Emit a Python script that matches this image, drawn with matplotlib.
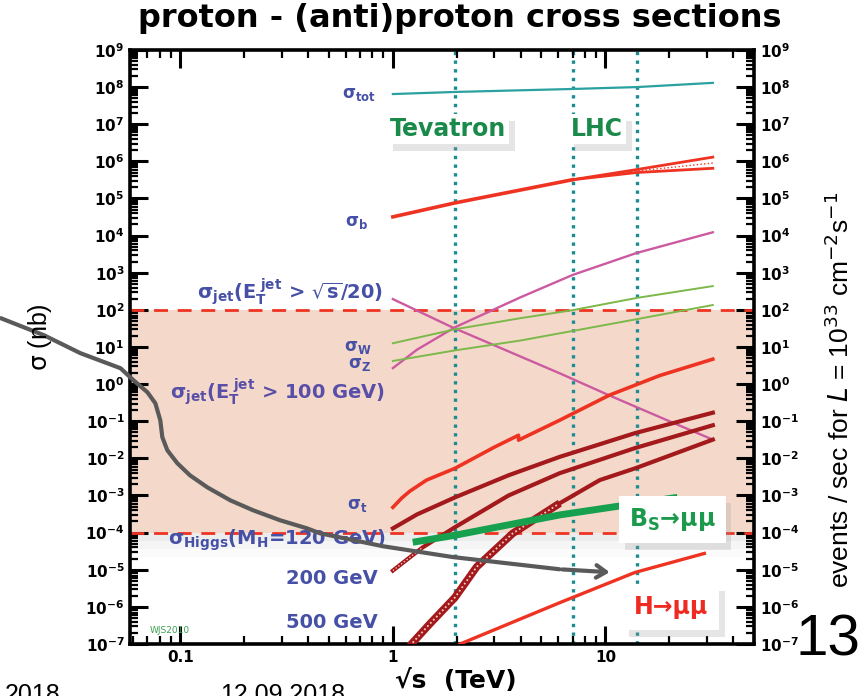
import numpy as np
import matplotlib
matplotlib.use("Agg")
import matplotlib.pyplot as plt
import matplotlib.patheffects as pe
from matplotlib.ticker import LogLocator, FuncFormatter, NullFormatter

plt.rcParams['font.family'] = ['DejaVu Sans']
plt.rcParams['mathtext.fontset'] = 'dejavusans'
plt.rcParams['mathtext.default'] = 'bf'

# sqrt(s) in TeV, cross sections in nb
sig_tot_x = [1.0, 1.96, 7.0, 14.0, 32.0]
sig_tot_y = [6.5e7, 7.4e7, 8.9e7, 1.0e8, 1.3e8]

sig_b_x = [1.0, 1.96, 4.0, 7.0]
sig_b_y = [3.2e4, 7.6e4, 1.7e5, 3.2e5]
sig_b_band_x = [7.0, 14.0, 32.0]
sig_b_hi = [3.2e5, 6.0e5, 1.3e6]
sig_b_mid = [3.2e5, 5.5e5, 9.0e5]
sig_b_lo = [3.2e5, 5.0e5, 6.5e5]

jet_frac_x = [1.0, 1.9, 6.1, 10.4, 20.6, 32.0]
jet_frac_y = [195, 34, 1.95, 0.5, 0.093, 0.032]

jet_100_x = [1.0, 1.3, 1.96, 4.0, 7.0, 14.0, 32.0]
jet_100_y = [2.7, 8.5, 34, 220, 870, 3400, 12300]

sig_w_x = [1.0, 1.96, 4.0, 7.0, 14.0, 32.0]
sig_w_y = [12.6, 30, 60, 98, 209, 437]
sig_z_x = [1.0, 1.96, 4.0, 7.0, 14.0, 32.0]
sig_z_y = [4.2, 8.1, 15, 27, 56, 135]

# top: ppbar below 4 TeV, pp above
sig_t_ppbar_x = [1.0, 1.1, 1.2, 1.44, 1.96, 3.0, 3.9]
sig_t_ppbar_y = [4.8e-4, 8.5e-4, 1.3e-3, 2.6e-3, 5.4e-3, 2.0e-2, 4.2e-2]
sig_t_pp_x = [3.9, 6.1, 10.4, 18.0, 32.0]
sig_t_pp_y = [0.031, 0.107, 0.5, 1.7, 4.7]

higgs120_x = [1.0, 1.3, 1.96, 3.5, 6.1, 13.8, 32.0]
higgs120_y = [1.3e-4, 3.1e-4, 8.9e-4, 3.5e-3, 1.1e-2, 4.8e-2, 0.17]
higgs200_x = [1.0, 1.38, 1.96, 3.5, 6.1, 13.8, 32.0]
higgs200_y = [9.5e-6, 4.0e-5, 1.4e-4, 1.0e-3, 4.0e-3, 1.9e-2, 7.8e-2]
higgs500_x = [1.2, 1.5, 1.96, 2.48, 3.66, 6.1, 9.4, 13.8, 32.0]
higgs500_y = [8.9e-8, 3.6e-7, 1.8e-6, 1.2e-5, 9.5e-5, 6.2e-4, 2.6e-3, 5.4e-3, 3.2e-2]

bs_mumu_x = [1.24, 1.96, 6.1, 21.8]
bs_mumu_y = [5.5e-5, 8.5e-5, 3.0e-4, 8.9e-4]

h_mumu_x = [2.07, 6.1, 13.8, 29.2]
h_mumu_y = [1.0e-7, 1.3e-6, 8.5e-6, 2.75e-5]

collider_energies = [1.96, 7.0, 14.0]
band_lo, band_hi = 1e-4, 1e2

# grey pointer path (TeV, nb), runs out past the left spine
arrow_x = [0.0143, 0.0228, 0.0339, 0.0523, 0.0602, 0.0700, 0.0763, 0.0805,
           0.0823, 0.0869, 0.0968, 0.111, 0.134, 0.172, 0.220, 0.295, 0.395,
           0.454, 0.898, 1.91, 6.08]
arrow_y = [59.7, 20.8, 6.8, 2.68, 1.27, 0.605, 0.305, 0.106, 0.0371, 0.0165,
           7.4e-3, 3.5e-3, 1.66e-3, 7.4e-4, 4.0e-4, 2.15e-4, 1.3e-4, 9.6e-5,
           4.3e-5, 2.2e-5, 1.03e-5]
arrow_tip = (10.8, 8.5e-6)

RED = '#ee3322'
DARKRED = '#a3191c'
MAGENTA = '#cc5aa0'
LGREEN = '#7cb84a'
TEAL = '#1b8c92'
LABEL = '#4650a6'

fig = plt.figure(figsize=(8.64, 6.96), dpi=100)
ax = fig.add_axes([0.1505, 0.0747, 0.7222, 0.8535])
ax.set_xscale('log')
ax.set_yscale('log')
ax.set_xlim(0.058, 50)
ax.set_ylim(1e-7, 1e9)

ax.axhspan(band_lo, band_hi, color='#f4d9ca', zorder=0, lw=0)
for k, a in enumerate([0.09, 0.06, 0.035]):
    ax.axhspan(band_lo / 10 ** (0.22 * (k + 1)), band_lo, color='#9a9a9a',
               alpha=a, zorder=0, lw=0)
ax.axhline(band_hi, color=RED, ls=(0, (5, 3.5)), lw=2, zorder=2)
ax.axhline(band_lo, color=RED, ls=(0, (5, 3.5)), lw=2, zorder=2)

for e in collider_energies:
    ax.axvline(e, color=TEAL, ls=(0, (1, 1.6)), lw=2.4, zorder=1)

ax.plot(sig_tot_x, sig_tot_y, color='#2aa0a0', lw=1.6, zorder=3)
ax.plot(sig_b_x, sig_b_y, color=RED, lw=2.6, zorder=3)
ax.plot(sig_b_band_x, sig_b_hi, color=RED, lw=2.0, zorder=3)
ax.plot(sig_b_band_x, sig_b_lo, color=RED, lw=2.0, zorder=3)
ax.plot(sig_b_band_x, sig_b_mid, color=RED, lw=1.0, ls=':', zorder=3)
ax.plot(jet_frac_x, jet_frac_y, color=MAGENTA, lw=1.7, zorder=3)
ax.plot(jet_100_x, jet_100_y, color=MAGENTA, lw=1.7, zorder=3)
ax.plot(sig_w_x, sig_w_y, color=LGREEN, lw=1.4, zorder=3)
ax.plot(sig_z_x, sig_z_y, color=LGREEN, lw=1.4, zorder=3)
ax.plot(sig_t_ppbar_x + sig_t_pp_x, sig_t_ppbar_y + sig_t_pp_y, color=RED,
        lw=2.6, zorder=3)
ax.plot(higgs120_x, higgs120_y, color=DARKRED, lw=3, zorder=3)
ax.plot(higgs200_x, higgs200_y, color=DARKRED, lw=3, zorder=3)
ax.plot(higgs200_x[:2], higgs200_y[:2], color='#f0c8c0', lw=1,
        ls=(0, (1, 1.5)), zorder=3)
# 500 GeV: hatched band at low energy, plain line above
ax.plot(higgs500_x[:6], higgs500_y[:6], color=DARKRED, lw=5.5, zorder=3,
        solid_capstyle='butt')
ax.plot(higgs500_x[:6], higgs500_y[:6], color='#f3cdc4', lw=1.3,
        ls=(0, (1, 1.4)), zorder=3)
ax.plot(higgs500_x[5:], higgs500_y[5:], color=DARKRED, lw=3, zorder=3)
ax.plot(bs_mumu_x, bs_mumu_y, color='#17a04e', lw=5, zorder=3,
        solid_capstyle='butt')
ax.plot(h_mumu_x, h_mumu_y, color=RED, lw=2.4, zorder=3)

# pointer arrow
ax.plot(arrow_x, arrow_y, color='#5a5a5a', lw=3, zorder=6, clip_on=False,
        solid_capstyle='round', solid_joinstyle='round')
ax.annotate('', xy=arrow_tip, xytext=(arrow_x[-1], arrow_y[-1]),
            arrowprops=dict(arrowstyle='->,head_length=0.7,head_width=0.45',
                            color='#5a5a5a', lw=3), zorder=6)

# curve labels
lab = dict(color=LABEL, fontweight='bold', ha='right', va='center', zorder=4,
           fontsize=14)
sig = dict(lab, fontsize=12)
ax.text(0.83, 6.5e7, r'$\sigma_{tot}$', **sig)
ax.text(0.76, 2.3e4, r'$\sigma_{b}$', **sig)
ax.text(0.90, 300, r'$\sigma_{jet}$(E$_{T}^{\ jet}$ > $\sqrt{s}$/20)', **lab)
ax.text(0.79, 10.0, r'$\sigma_{W}$', **sig)
ax.text(0.79, 3.4, r'$\sigma_{Z}$', **sig)
ax.text(0.92, 0.62, r'$\sigma_{jet}$(E$_{T}^{\ jet}$ > 100 GeV)',
        **dict(lab, color='#5a4fa8'))
ax.text(0.76, 5.5e-4, r'$\sigma_{t}$', **sig)
ax.text(0.92, 6.2e-5, r'$\sigma_{Higgs}$(M$_{H}$=120 GeV)', **lab)
ax.text(0.85, 5.9e-6, '200 GeV', **lab)
ax.text(0.85, 3.8e-7, '500 GeV', **lab)
ax.text(0.072, 2.3e-7, 'WJS2010', fontsize=6.5, color='#3aa050', ha='left',
        va='center')

shadow = [pe.withSimplePatchShadow(offset=(4, -5), shadow_rgbFace='#9a9a9a',
                                   alpha=0.25)]
box_texts = [
    (0.417, 0.867, 'Tevatron', '#1a8a4a', 0.12, 17),
    (0.707, 0.867, 'LHC', '#1a8a4a', 0.12, 17),
    (0.8, 0.209, 'B$_{S}$\u2192\u03bc\u03bc', '#1a9a4a', 0.42, 17),
    (0.808, 0.062, 'H\u2192\u03bc\u03bc', '#ee2a22', 0.45, 17),
]
for bx, by, s, c, pad, fs in box_texts:
    t = ax.text(bx, by, s, transform=ax.transAxes, fontsize=fs,
                fontweight='bold', color=c, ha='left', va='center', zorder=5,
                bbox=dict(boxstyle='square,pad=%g' % pad, fc='white', ec='none'))
    t.get_bbox_patch().set_path_effects(shadow)

# axes styling
for s in ax.spines.values():
    s.set_linewidth(2.6)
ax.yaxis.set_major_locator(LogLocator(base=10, numticks=40))
ax.yaxis.set_minor_locator(LogLocator(base=10, subs=np.arange(2, 10), numticks=40))
ax.xaxis.set_major_locator(LogLocator(base=10, numticks=10))
ax.xaxis.set_minor_locator(LogLocator(base=10, subs=np.arange(2, 10), numticks=10))
ax.yaxis.set_major_formatter(FuncFormatter(
    lambda v, p: r'$10^{%d}$' % round(np.log10(v))))
ax.yaxis.set_minor_formatter(NullFormatter())
ax.xaxis.set_major_formatter(FuncFormatter(lambda v, p: '%g' % v))
ax.xaxis.set_minor_formatter(NullFormatter())
ax.tick_params(which='both', direction='in', top=True, right=True,
               labelright=True)
ax.tick_params(which='major', length=13, width=2.2, labelsize=11, pad=4)
ax.tick_params(which='minor', length=6, width=1.6)
for t in ax.get_xticklabels():
    t.set_fontweight('bold')

fig.text(0.532, 0.974, 'proton - (anti)proton cross sections', fontsize=23,
         fontweight='bold', ha='center', va='center')
fig.text(0.046, 0.515, r'$\mathrm{\sigma}$ (nb)', fontsize=18, rotation=90,
         ha='center', va='center', family=['Liberation Sans', 'DejaVu Sans'])
fig.text(0.972, 0.44,
         r'events / sec for $\mathit{L}$ = 10$^{\mathrm{33}}$ cm$^{\mathrm{-2}}$s$^{\mathrm{-1}}$',
         family=['Liberation Sans', 'DejaVu Sans'], fontsize=19,
         rotation=90, ha='center', va='center')
fig.text(0.527, 0.021, '\u221as  (TeV)', fontsize=18, fontweight='bold',
         ha='center', va='center')
foot = dict(fontsize=18, ha='right', va='top',
            family=['Liberation Sans', 'DejaVu Sans'])
fig.text(0.07, 0.019, '2018', **foot)
fig.text(0.40, 0.019, '12.09.2018', **foot)
fig.text(0.958, 0.080, '13', family=['Liberation Sans', 'DejaVu Sans'],
         fontsize=42, ha='center', va='center')

fig.savefig('out.png', dpi=100)
